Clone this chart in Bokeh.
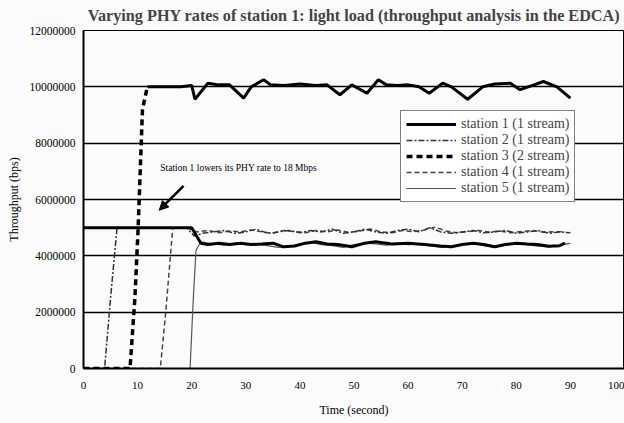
from bokeh.plotting import figure
from bokeh.models import (ColumnDataSource, Legend, LegendItem, FixedTicker,
                          BasicTickFormatter, Label, Arrow, NormalHead, Range1d)
from bokeh.embed import file_html
from bokeh.resources import INLINE

# ---------------- data (throughput in Mbps, time in seconds) ----------------
x_ticks = [0, 10, 20, 30, 40, 50, 60, 70, 80, 90, 100]
y_ticks = [0, 2e6, 4e6, 6e6, 8e6, 10e6, 12e6]

t1 = [0, 20, 21.7, 23, 25, 27, 29, 31, 33, 35, 37, 39, 41, 43, 45, 47, 49.6,
      52, 54, 57, 60, 63, 66, 68, 70, 72, 74, 76, 78, 80, 82, 84, 86, 88, 89]
v1 = [5.0, 5.0, 4.45, 4.4, 4.45, 4.4, 4.45, 4.4, 4.42, 4.45, 4.32, 4.35, 4.45,
      4.5, 4.42, 4.4, 4.32, 4.45, 4.5, 4.42, 4.45, 4.4, 4.35, 4.32, 4.4, 4.45,
      4.4, 4.32, 4.4, 4.45, 4.42, 4.4, 4.34, 4.36, 4.45]

t2 = [0, 3.9, 5, 6.2, 10, 15, 19, 20.5, 22, 24, 26, 28, 30, 32, 34, 36, 38, 40,
      42, 44, 46, 48, 50, 52, 54, 56, 58, 60, 62, 64, 66, 68, 70, 72, 74, 76,
      78, 80, 82, 84, 86, 88, 90]
v2 = [0, 0, 2.5, 5.0, 5.0, 5.0, 5.0, 4.7,
      4.8, 4.85, 4.9, 4.8, 4.85, 4.95, 4.8, 4.85, 4.9, 4.82,
      4.9, 4.85, 4.95, 4.8, 4.85, 4.95, 4.85, 4.8, 4.9, 4.95,
      4.85, 5.0, 4.85, 4.8, 4.85, 4.9, 4.82, 4.85, 4.9, 4.8,
      4.85, 4.9, 4.8, 4.85, 4.82]

t3 = [0, 8.6, 9.5, 10.1, 10.9, 11.8, 14, 16, 18, 20, 20.6, 23, 25, 27, 29.6,
      31, 33.3, 34.6, 37, 40, 43, 45, 47.4, 49.6, 52.4, 54.5, 56, 58, 60, 62,
      63.9, 66.4, 68, 71, 73.8, 76, 78.9, 80.7, 83, 85, 87.5, 90]
v3 = [0, 0, 2.5, 5.0, 9.2, 10.0, 10.0, 10.0, 10.0, 10.05, 9.56, 10.13, 10.07,
      10.07, 9.6, 10.0, 10.25, 10.07, 10.05, 10.1, 10.05, 10.07, 9.72, 10.07,
      9.77, 10.25, 10.07, 10.05, 10.07, 10.0, 9.77, 10.13, 10.0, 9.56, 10.0,
      10.1, 10.13, 9.9, 10.05, 10.19, 10.0, 9.6]

t4 = [0, 14.2, 15.2, 16.5, 19, 21, 23, 25, 27, 29, 31, 33, 35, 37, 39, 41, 43,
      45, 47, 49, 51, 53, 55, 57, 59, 61, 63, 65, 67, 69, 71, 73, 75, 77, 79,
      81, 83, 85, 87, 89]
v4 = [0, 0, 2.0, 5.0, 5.0, 4.85, 4.9, 4.82, 4.88, 4.85, 4.92, 4.85, 4.8, 4.9,
      4.86, 4.82, 4.9, 4.85, 4.92, 4.83, 4.88, 4.95, 4.85, 4.82, 4.9, 4.86,
      4.92, 5.02, 4.88, 4.82, 4.86, 4.9, 4.84, 4.88, 4.82, 4.86, 4.9, 4.84,
      4.86, 4.85]

t5 = [0, 19.7, 20.3, 20.8, 21.7, 24, 26, 28, 30, 32, 34, 36, 38, 40, 42, 44,
      46, 48, 50, 52, 54, 56, 58, 60, 62, 64, 66, 68, 70, 72, 74, 76, 78, 80,
      82, 84, 86, 88, 90]
v5 = [0, 0, 2.5, 4.2, 4.5, 4.42, 4.38, 4.45, 4.4, 4.42, 4.36, 4.3, 4.34, 4.42,
      4.48, 4.4, 4.36, 4.3, 4.4, 4.46, 4.42, 4.38, 4.44, 4.4, 4.42, 4.36, 4.3,
      4.32, 4.42, 4.44, 4.36, 4.3, 4.4, 4.44, 4.4, 4.34, 4.32, 4.38, 4.44]

names = ["station 1 (1 stream)", "station 2 (1 stream)", "station 3 (2 stream)",
         "station 4 (1 stream)", "station 5 (1 stream)"]

annotation_text = "Station 1 lowers its PHY rate to 18 Mbps"

SERIF = "Liberation Serif"
BG = "#fbfbfb"

def src(t, v):
    return ColumnDataSource(dict(x=t, y=[a * 1e6 for a in v]))

p = figure(width=624, height=423, output_backend="svg", toolbar_location=None,
           x_range=Range1d(0, 100), y_range=Range1d(0, 12e6),
           min_border_left=83, min_border_right=0, min_border_top=30,
           min_border_bottom=55,
           background_fill_color=BG, border_fill_color=BG)

p.title.text = "Varying PHY rates of station 1: light load (throughput analysis in the EDCA)"
p.title.text_font = SERIF
p.title.text_font_style = "bold"
p.title.text_font_size = "16.2px"
p.title.align = "center"
p.title.vertical_align = "top"
p.title.offset = 0
p.title.standoff = 8

p.outline_line_color = "black"
p.outline_line_width = 1

p.xgrid.visible = False
p.ygrid.ticker = FixedTicker(ticks=y_ticks)
p.ygrid.grid_line_color = "black"
p.ygrid.grid_line_width = 1.6

p.xaxis.ticker = FixedTicker(ticks=x_ticks)
p.yaxis.ticker = FixedTicker(ticks=y_ticks)
p.yaxis.formatter = BasicTickFormatter(use_scientific=False)
for ax in (p.xaxis[0], p.yaxis[0]):
    ax.axis_line_width = 2
    ax.axis_line_color = "black"
    ax.major_tick_line_color = None
    ax.minor_tick_line_color = None
    ax.major_tick_out = 0
    ax.major_tick_in = 0
    ax.minor_tick_out = 0
    ax.minor_tick_in = 0
    ax.major_label_text_font = SERIF
    ax.major_label_text_color = "black"
    ax.axis_label_text_font = SERIF
    ax.axis_label_text_font_size = "12px"
    ax.axis_label_text_font_style = "normal"
    ax.axis_label_text_color = "black"
p.xaxis.major_label_text_font_size = "11px"
p.yaxis.major_label_text_font_size = "11.5px"
p.xaxis.axis_label = "Time (second)"
p.yaxis.axis_label = "Throughput (bps)"
p.xaxis.major_label_standoff = 13
p.yaxis.major_label_standoff = 8
p.xaxis.axis_label_standoff = 11
p.yaxis.axis_label_standoff = 6

n_ramp = 6
s1, s2, s4, s5 = src(t1, v1), src(t2, v2), src(t4, v4), src(t5, v5)
s3a = src(t3[:n_ramp], v3[:n_ramp])
s3b = src(t3[n_ramp - 1:], v3[n_ramp - 1:])

r5 = p.line("x", "y", source=s5, line_color="#555555", line_width=1.2)
r4 = p.line("x", "y", source=s4, line_color="#444444", line_width=1.5, line_dash="5 3")
r2 = p.line("x", "y", source=s2, line_color="#333333", line_width=1.5, line_dash="6 2 2 2")
r1 = p.line("x", "y", source=s1, line_color="black", line_width=3)
r3a = p.line("x", "y", source=s3a, line_color="black", line_width=3.5, line_dash="6 4")
r3b = p.line("x", "y", source=s3b, line_color="black", line_width=3)

p.add_layout(Label(x=14.2, y=7.12e6, text=annotation_text, text_font=SERIF,
                   text_font_size="9.5px", text_baseline="middle", text_color="black"))
p.add_layout(Arrow(end=NormalHead(size=9, fill_color="black", line_color="black"),
                   x_start=18.5, y_start=6.48e6, x_end=14.0, y_end=5.62e6,
                   line_width=2.5, line_color="black"))

legend = Legend(items=[LegendItem(label=names[0], renderers=[r1]),
                       LegendItem(label=names[1], renderers=[r2]),
                       LegendItem(label=names[2], renderers=[r3a]),
                       LegendItem(label=names[3], renderers=[r4]),
                       LegendItem(label=names[4], renderers=[r5])],
                location=(317, 166))
legend.label_text_font = SERIF
legend.label_text_font_size = "14px"
legend.label_text_line_height = 1.0
legend.label_height = 14
legend.glyph_height = 14
legend.glyph_width = 50
legend.label_standoff = 5
legend.spacing = 0
legend.padding = 5
legend.margin = 0
legend.border_line_color = "black"
legend.border_line_width = 1
legend.background_fill_color = "white"
legend.background_fill_alpha = 1
p.add_layout(legend, "center")

open("out.html", "w").write(file_html(p, INLINE))
